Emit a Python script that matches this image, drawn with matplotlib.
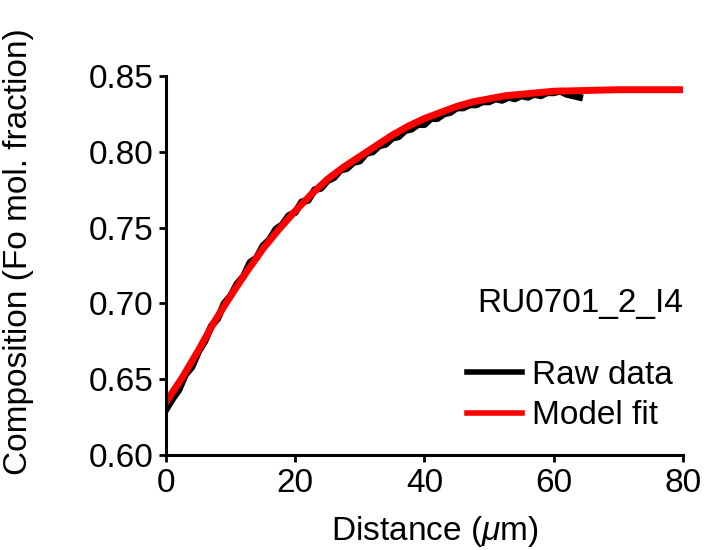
import numpy as np
import matplotlib
matplotlib.use("Agg")
import matplotlib.pyplot as plt

# Raw profile (1 um steps)
raw_distance = np.arange(0, 65, 1)
raw_fo = [0.630, 0.637, 0.643, 0.653, 0.658, 0.668, 0.675, 0.685, 0.690, 0.700,
          0.705, 0.713, 0.718, 0.727, 0.730, 0.738, 0.742, 0.749, 0.752, 0.758,
          0.760, 0.767, 0.768, 0.775, 0.776, 0.781, 0.783, 0.788, 0.789, 0.793,
          0.794, 0.799, 0.800, 0.804, 0.805, 0.809, 0.810, 0.814, 0.815, 0.818,
          0.818, 0.822, 0.822, 0.825, 0.826, 0.829, 0.829, 0.831, 0.831, 0.833,
          0.833, 0.835, 0.834, 0.836, 0.835, 0.837, 0.836, 0.838, 0.837, 0.839,
          0.839, 0.840, 0.838, 0.837, 0.836]

# Model fit
fit_distance = [0, 2.5, 5, 7.5, 10, 12.5, 15, 17.5, 20, 22.5, 25, 27.5, 30, 32.5,
                35, 37.5, 40, 42.5, 45, 47.5, 50, 52.5, 55, 57.5, 60, 65, 70, 80]
fit_fo = [0.635, 0.651, 0.669, 0.688, 0.705, 0.721, 0.736, 0.749, 0.761, 0.772,
          0.782, 0.790, 0.797, 0.804, 0.811, 0.817, 0.822, 0.826, 0.830, 0.833,
          0.835, 0.837, 0.838, 0.839, 0.840, 0.8405, 0.841, 0.841]

sample = 'RU0701_2_I4'

plt.rcParams['font.family'] = ['Liberation Sans', 'DejaVu Sans']
plt.rcParams['mathtext.fontset'] = 'custom'
plt.rcParams['mathtext.rm'] = 'Liberation Sans'
plt.rcParams['mathtext.it'] = 'Liberation Sans:italic'

fig = plt.figure(figsize=(7.11, 5.5), dpi=100)
ax = fig.add_axes([0.2335, 0.1727, 0.727, 0.689])

ax.plot(raw_distance, raw_fo, color='black', lw=5, label='Raw data')
ax.plot(fit_distance, fit_fo, color='red', lw=5, label='Model fit')

ax.set_xlim(0, 80)
ax.set_ylim(0.60, 0.85)
ax.set_xticks([0, 20, 40, 60, 80])
ax.set_yticks([0.60, 0.65, 0.70, 0.75, 0.80, 0.85])
ax.set_yticklabels(['0.60', '0.65', '0.70', '0.75', '0.80', '0.85'])

for s in ['top', 'right']:
    ax.spines[s].set_visible(False)
for s in ['left', 'bottom']:
    ax.spines[s].set_linewidth(2.2)
ax.tick_params(axis='both', direction='out', length=5, width=2, labelsize=24, pad=4)

ax.set_xlabel(r'Distance ($\mu$m)', fontsize=24)
ax.set_ylabel('Composition (Fo mol. fraction)', fontsize=24)
ax.xaxis.set_label_coords(0.52, -0.155)
ax.yaxis.set_label_coords(-0.255, 0.537)

ax.text(1.0, 0.40, sample, transform=ax.transAxes, fontsize=24,
        ha='right', va='center')

leg = ax.legend(loc='upper left', bbox_to_anchor=(0.582, 0.252), frameon=False,
                fontsize=24, handlelength=1.65, handletextpad=0.3,
                labelspacing=0.29, borderaxespad=0, borderpad=0)
for line in leg.get_lines():
    line.set_linewidth(4)

plt.savefig('out.png', dpi=100)
